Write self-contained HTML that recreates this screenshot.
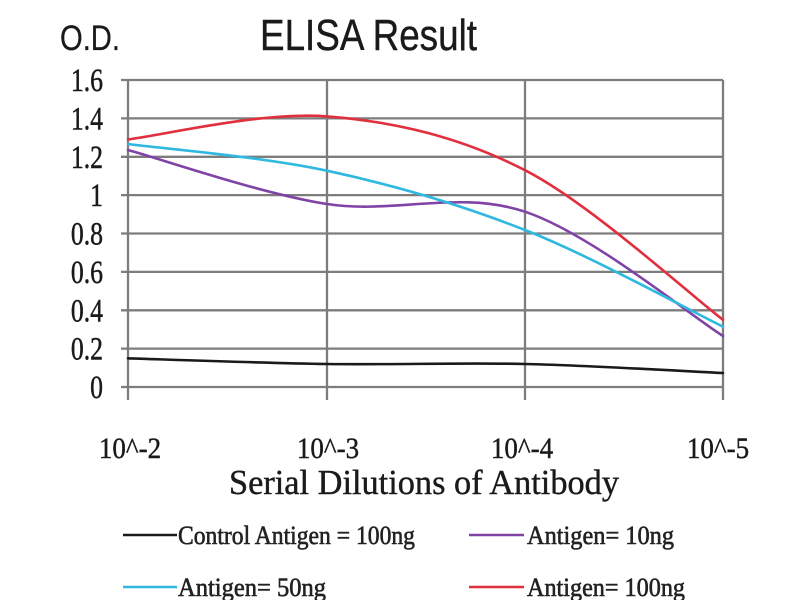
<!DOCTYPE html>
<html>
<head>
<meta charset="utf-8">
<style>
  html, body { margin: 0; padding: 0; background: #ffffff; }
  svg { display: block; }
</style>
</head>
<body>
<svg width="800" height="600" viewBox="0 0 800 600" xmlns="http://www.w3.org/2000/svg">
  <rect x="0" y="0" width="800" height="600" fill="#ffffff"/>

  <!-- Title and y-axis label -->
  <text x="260" y="50" font-family="'Liberation Sans', sans-serif" font-size="44" fill="#1a1a1a" stroke="#1a1a1a" stroke-width="0.4" textLength="217" lengthAdjust="spacingAndGlyphs">ELISA Result</text>
  <text x="60" y="50" font-family="'Liberation Sans', sans-serif" font-size="35" fill="#1a1a1a" stroke="#1a1a1a" stroke-width="0.3" textLength="60" lengthAdjust="spacingAndGlyphs">O.D.</text>

  <!-- Horizontal gridlines -->
  <g stroke="#7d7d7d" stroke-width="2.3">
    <line x1="121" y1="80" x2="723" y2="80"/>
    <line x1="121" y1="118.4" x2="723" y2="118.4"/>
    <line x1="121" y1="156.8" x2="723" y2="156.8"/>
    <line x1="121" y1="195.1" x2="723" y2="195.1"/>
    <line x1="121" y1="233.5" x2="723" y2="233.5"/>
    <line x1="121" y1="271.9" x2="723" y2="271.9"/>
    <line x1="121" y1="310.3" x2="723" y2="310.3"/>
    <line x1="121" y1="348.6" x2="723" y2="348.6"/>
    <line x1="121" y1="387" x2="723" y2="387"/>
  </g>
  <!-- Vertical gridlines -->
  <g stroke="#7d7d7d" stroke-width="2.3">
    <line x1="128" y1="80" x2="128" y2="400"/>
    <line x1="327" y1="80" x2="327" y2="400"/>
    <line x1="525" y1="80" x2="525" y2="400"/>
    <line x1="723" y1="80" x2="723" y2="400"/>
  </g>

  <!-- Y tick labels -->
  <g font-family="'Liberation Serif', serif" font-size="33" fill="#1a1a1a" stroke="#1a1a1a" stroke-width="0.5" text-anchor="end">
    <text transform="translate(103,91) scale(0.78,1)">1.6</text>
    <text transform="translate(103,129.4) scale(0.78,1)">1.4</text>
    <text transform="translate(103,167.8) scale(0.78,1)">1.2</text>
    <text transform="translate(103,206.1) scale(0.78,1)">1</text>
    <text transform="translate(103,244.5) scale(0.78,1)">0.8</text>
    <text transform="translate(103,282.9) scale(0.78,1)">0.6</text>
    <text transform="translate(103,321.3) scale(0.78,1)">0.4</text>
    <text transform="translate(103,359.6) scale(0.78,1)">0.2</text>
    <text transform="translate(103,398) scale(0.78,1)">0</text>
  </g>

  <!-- X tick labels -->
  <g font-family="'Liberation Serif', serif" font-size="27" fill="#1a1a1a" stroke="#1a1a1a" stroke-width="0.4" text-anchor="middle">
    <text transform="translate(130,458) scale(1,1.08)">10^-2</text>
    <text transform="translate(328,458) scale(1,1.08)">10^-3</text>
    <text transform="translate(522,458) scale(1,1.08)">10^-4</text>
    <text transform="translate(718,458) scale(1,1.08)">10^-5</text>
  </g>

  <!-- X axis title -->
  <text x="229" y="494" font-family="'Liberation Serif', serif" font-size="35" fill="#1a1a1a" stroke="#1a1a1a" stroke-width="0.4" textLength="390" lengthAdjust="spacingAndGlyphs">Serial Dilutions of Antibody</text>

  <!-- Series -->
  <g fill="none" stroke-width="2.6" stroke-linecap="round" stroke-linejoin="round">
    <path stroke="#1a1a1a" d="M128,358.3 C161.2,359.3 260.8,363.05 327,364 C393.2,364.95 459,362.5 525,364 C591,365.5 690,371.5 723,373"/>
    <path stroke="#8043a6" d="M128,150 C161.2,159 260.8,193.7 327,204 C393.2,214.3 459,189.7 525,211.7 C591,233.7 690,315.3 723,336"/>
    <path stroke="#2fb8e0" d="M128,144 C161.2,148.5 260.8,156.4 327,170.7 C393.2,185 459,204 525,230 C591,256 690,310.6 723,326.7"/>
    <path stroke="#e0303e" d="M128,139.4 C161.2,135.6 260.8,111.3 327,116.4 C393.2,121.5 459,136.3 525,170.2 C591,204.1 690,294.9 723,319.8"/>
  </g>

  <!-- Legend -->
  <g stroke-width="2.6">
    <line x1="123" y1="535" x2="177" y2="535" stroke="#1a1a1a"/>
    <line x1="469" y1="535" x2="524" y2="535" stroke="#8043a6"/>
    <line x1="123" y1="587" x2="177" y2="587" stroke="#2fb8e0"/>
    <line x1="469" y1="587" x2="524" y2="587" stroke="#e0303e"/>
  </g>
  <g font-family="'Liberation Serif', serif" font-size="26" fill="#222222" stroke="#222222" stroke-width="0.6">
    <text x="178" y="544" textLength="237" lengthAdjust="spacingAndGlyphs">Control Antigen = 100ng</text>
    <text x="527" y="544" textLength="147" lengthAdjust="spacingAndGlyphs">Antigen= 10ng</text>
    <text x="178" y="596" textLength="148" lengthAdjust="spacingAndGlyphs">Antigen= 50ng</text>
    <text x="527" y="596" textLength="158" lengthAdjust="spacingAndGlyphs">Antigen= 100ng</text>
  </g>
</svg>
</body>
</html>
